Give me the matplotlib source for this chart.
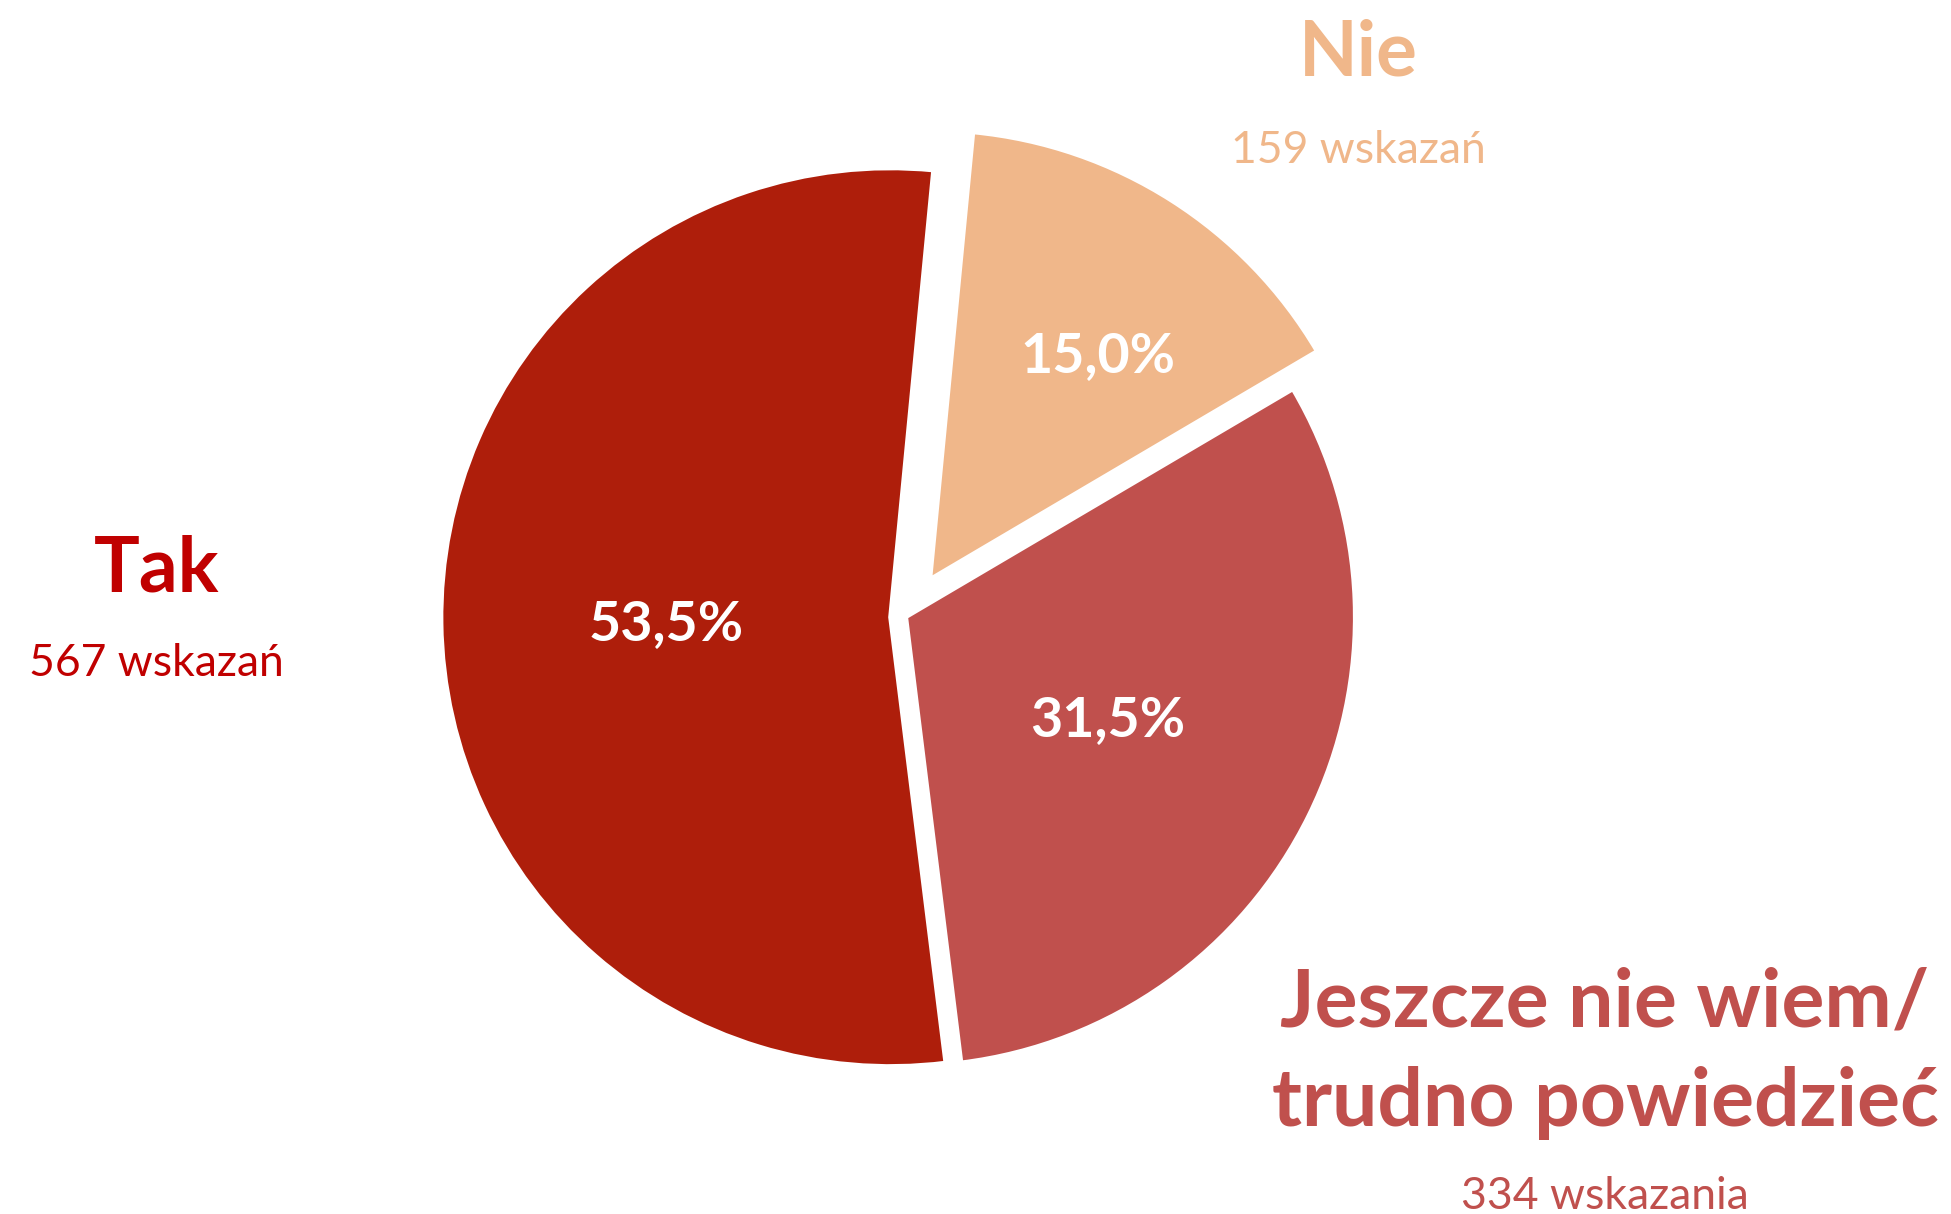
import matplotlib
matplotlib.use("Agg")
import matplotlib.pyplot as plt
import numpy as np

# ---- data ----
categories = ["Tak", "Jeszcze nie wiem/\ntrudno powiedzieć", "Nie"]
counts = [567, 334, 159]
count_labels = ["567 wskazań", "334 wskazania", "159 wskazań"]
slice_colors = ["#AE1E0B", "#C0504D", "#F0B78A"]
label_colors = ["#C00000", "#C0504D", "#F0B78A"]
explode = [0.035, 0.0, 0.10]   # fraction of radius

W, H = 1951, 1214
fig = plt.figure(figsize=(W / 100, H / 100), dpi=100)
ax = fig.add_axes([0, 0, 1, 1])

FONT = ["Lato", "DejaVu Sans"]

center = (906, H - 617)
R = 449

def pct_fmt(p):
    return f"{p:.1f}%".replace(".", ",")

wedges, texts, autotexts = ax.pie(
    counts, colors=slice_colors, explode=[e * R for e in explode],
    startangle=84.5, counterclock=True, center=center, radius=R, frame=True,
    autopct=pct_fmt, pctdistance=0.5,
    wedgeprops=dict(edgecolor="white", linewidth=3),
    textprops=dict(color="white", fontsize=40, fontweight="bold", family=FONT),
)
ax.set_xlim(0, W)
ax.set_ylim(0, H)
ax.axis("off")

# move "Nie" percentage slightly further out
w = wedges[2]
ang = np.deg2rad((w.theta1 + w.theta2) / 2 - 4)
cx, cy = w.center
autotexts[2].set_position((cx + 0.63 * R * np.cos(ang), cy + 0.63 * R * np.sin(ang)))
for t in autotexts:
    t.set_ha("center")
    t.set_va("center")
    x, y = t.get_position()
    t.set_position((x, y - 4))

# category labels (image pixel coords -> y up)
def put(x, y_img, s, color, size, weight):
    ax.text(x, H - y_img, s, color=color, fontsize=size, fontweight=weight,
            family=FONT, ha="center", va="baseline")

put(157, 592, categories[0], label_colors[0], 55, "bold")
put(156, 676, count_labels[0], label_colors[0], 32, "normal")

put(1358, 76, categories[2], label_colors[2], 55, "bold")
put(1358, 163, count_labels[2], label_colors[2], 32, "normal")

lines = categories[1].split("\n")
put(1605, 1026, lines[0], label_colors[1], 58, "bold")
put(1605, 1126, lines[1], label_colors[1], 58, "bold")
put(1605, 1209, count_labels[1], label_colors[1], 32, "normal")

fig.savefig("out.png", dpi=100, facecolor="white")
